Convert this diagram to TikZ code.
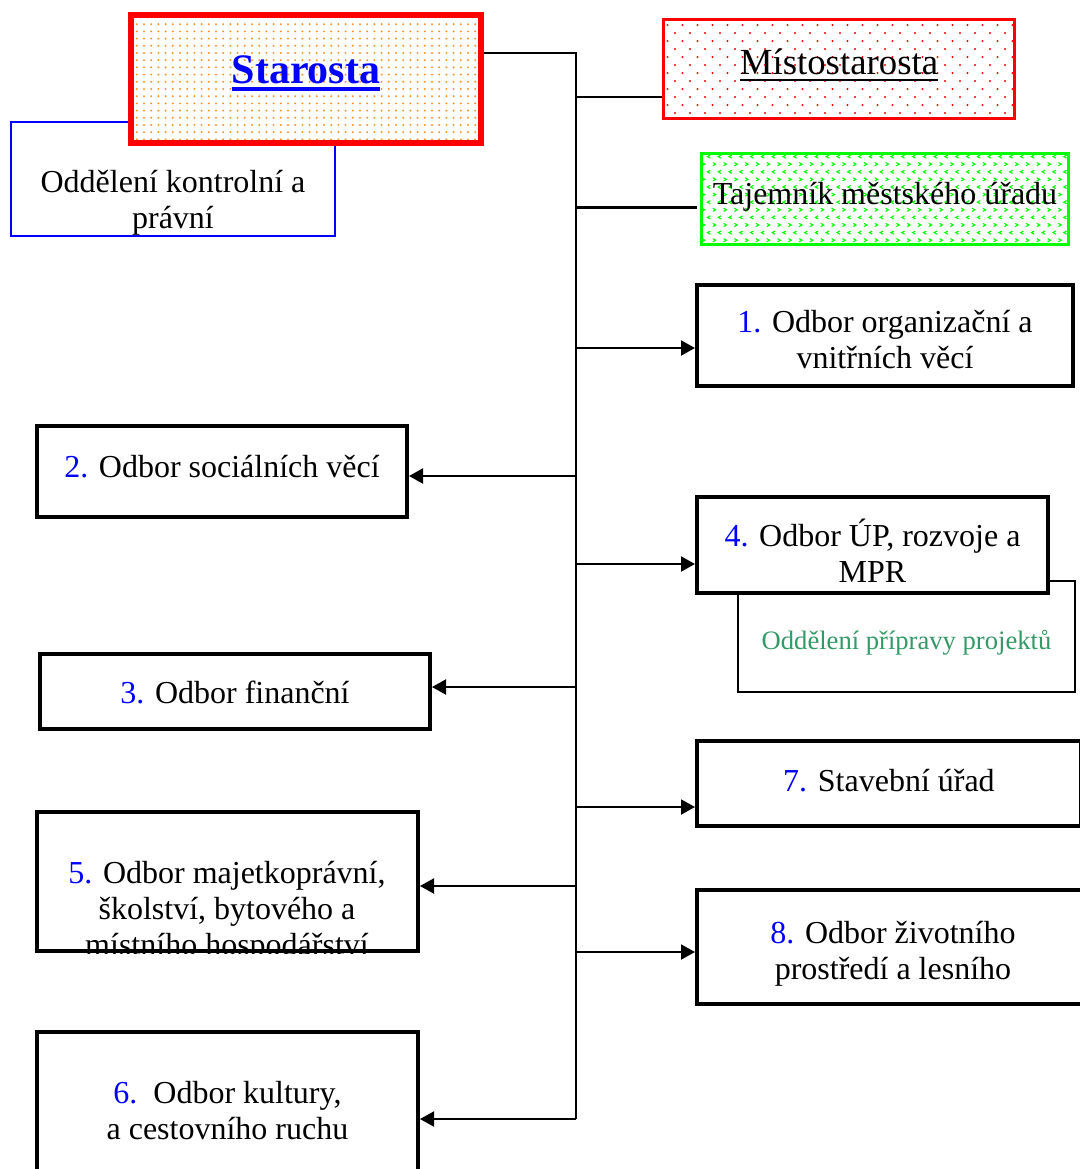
\documentclass[tikz,border=0pt]{standalone}
\usepackage{fontspec}
\setmainfont{Liberation Serif}
\usetikzlibrary{arrows.meta,patterns,patterns.meta}
\definecolor{projekt}{RGB}{51,153,102}
\tikzdeclarepattern{name=hustetecky,type=uncolored,
  bounding box={(-.6pt,-.6pt) and (.6pt,.6pt)},tile size={(3.6pt,3.6pt)},
  code={\fill (0pt,0pt) circle (.55pt);}}
\tikzdeclarepattern{name=ridketecky,type=uncolored,
  bounding box={(-.6pt,-.6pt) and (4.4pt,4.6pt)},tile size={(7.5pt,8pt)},
  code={\fill (0pt,0pt) circle (.55pt); \fill (3.75pt,4pt) circle (.55pt);}}
\tikzdeclarepattern{name=klikatice,type=uncolored,
  bounding box={(-.5pt,-.5pt) and (5pt,5.8pt)},tile size={(5.4pt,7.6pt)},
  code={\draw[line width=.55pt] (0pt,1.6pt) -- (1.4pt,.8pt) -- (0pt,0pt);
        \draw[line width=.55pt] (4.1pt,5.4pt) -- (2.7pt,4.6pt) -- (4.1pt,3.8pt);}}
\tikzstyle{every node}=[font=\fontsize{16}{18}\selectfont]
\tikzstyle{odbor}=[draw=black,line width=2pt,fill=white,inner sep=0pt]
\tikzstyle{oddeleni}=[draw=black,line width=1pt,fill=white,inner sep=0pt]
\tikzstyle{vedeni}=[line width=1.5pt,inner sep=0pt,align=center,preaction={fill=white}]
\tikzstyle{popis}=[align=center,inner sep=0pt]
\tikzstyle{spoj}=[line width=1pt]
\tikzstyle{sipka}=[line width=1pt,-{Triangle[length=7pt,width=7.5pt]}]
\newcommand{\cislo}[1]{\textcolor{blue}{#1}}
\newlength{\podtrhsirka}
% #1 hloubka pod uckou, #2 tloustka, #3 text
\newcommand{\podtrh}[3]{\settowidth{\podtrhsirka}{#3}\rlap{\rule[-#1]{\podtrhsirka}{#2}}#3}

\begin{document}
\begin{tikzpicture}[x=0.5pt,y=-0.5pt]
\useasboundingbox (0,0) rectangle (1080,1169);

% vedeni uradu
\node[draw=blue,line width=1pt,minimum width=162pt,minimum height=57pt] (kontrola) at (173,179) {};
\node[popis] (kontrolatext) at (173,203) {Oddělení kontrolní a\\právní};
\node[vedeni,draw=red,line width=3pt,pattern=hustetecky,pattern color=orange!85,
  minimum width=175pt,minimum height=64pt] (starosta) at (306,79) {};
\node[anchor=base,text=blue,font=\fontsize{21}{24}\selectfont\bfseries] (starostatext) at (306,83)
  {\podtrh{4pt}{2pt}{Starosta}};
\node[vedeni,draw=red,pattern=ridketecky,pattern color=red,
  minimum width=175.5pt,minimum height=49.5pt] (misto) at (839,69) {};
\node[anchor=base,font=\fontsize{18.4}{20}\selectfont] (mistotext) at (839,74)
  {\podtrh{3.5pt}{1pt}{Místostarosta}};
\node[vedeni,draw=green,pattern=klikatice,pattern color=green,
  minimum width=183.5pt,minimum height=45.5pt] (tajemnik) at (885,199) {};
\node[popis] (tajemniktext) at (885,197) {Tajemník městského úřadu};

% odbory vpravo
\node[odbor,minimum width=188pt,minimum height=50.5pt] (odbor1) at (885,335.5) {};
\node[popis] (odbor1text) at (885,339.5) {\cislo{1.} Odbor organizační a\\vnitřních věcí};
\node[oddeleni,minimum width=168.5pt,minimum height=55.5pt] (projekty) at (906.5,636) {};
\node[popis,text=projekt,font=\fontsize{13.3}{16}\selectfont] (projektytext) at (906.5,643)
  {Oddělení přípravy projektů};
\node[odbor,minimum width=175.5pt,minimum height=48pt] (odbor4) at (872.5,545) {};
\node[popis] (odbor4text) at (872.5,551) {\cislo{4.} Odbor ÚP, rozvoje a\\MPR};
\node[odbor,minimum width=192pt,minimum height=42.5pt] (odbor7) at (889,783) {};
\node[popis] (odbor7text) at (889,781) {\cislo{7.} Stavební úřad};
\node[odbor,minimum width=196pt,minimum height=57pt] (odbor8) at (893,947) {};
\node[popis] (odbor8text) at (893,954) {\cislo{8.} Odbor životního\\prostředí a lesního};

% odbory vlevo
\node[odbor,minimum width=185pt,minimum height=45.5pt] (odbor2) at (222,471) {};
\node[popis] (odbor2text) at (222,467) {\cislo{2.} Odbor sociálních věcí};
\node[odbor,minimum width=195pt,minimum height=37.5pt] (odbor3) at (235,691.5) {};
\node[popis] (odbor3text) at (235,692) {\cislo{3.} Odbor finanční};
\node[odbor,minimum width=190.5pt,minimum height=69.5pt] (odbor5) at (227.5,881.5) {};
\begin{scope}
  \clip (odbor5.north west) rectangle (odbor5.south east);
  \node[popis] (odbor5text) at (227,912)
    {\cislo{5.} Odbor majetkoprávní,\\školství, bytového a\\místního hospodářství};
\end{scope}
\node[odbor,minimum width=190.5pt,minimum height=74pt] (odbor6) at (227.5,1106) {};
\node[popis] (odbor6text) at (227.5,1111) {\cislo{6.}\ \ Odbor kultury,\\a cestovního ruchu};

% spojnice
\coordinate (kmen) at (576,53);
\coordinate (pata) at (576,1119);
\coordinate (k1) at (576,97);
\coordinate (k2) at (576,207);
\coordinate (k3) at (576,348);
\coordinate (k4) at (576,476);
\coordinate (k5) at (576,564);
\coordinate (k6) at (576,687);
\coordinate (k7) at (576,807);
\coordinate (k8) at (576,886);
\coordinate (k9) at (576,952);
\draw[spoj] (kmen -| starosta.east) -- (kmen) -- (pata);
\draw[spoj] (k1) -- (k1 -| misto.west);
\draw[line width=1.5pt,shorten >=1.5pt] (k2) -- (k2 -| tajemnik.west);
\draw[sipka] (k3) -- (k3 -| odbor1.west);
\draw[sipka] (k4) -- (k4 -| odbor2.east);
\draw[sipka] (k5) -- (k5 -| odbor4.west);
\draw[sipka] (k6) -- (k6 -| odbor3.east);
\draw[sipka] (k7) -- (k7 -| odbor7.west);
\draw[sipka] (k8) -- (k8 -| odbor5.east);
\draw[sipka] (k9) -- (k9 -| odbor8.west);
\draw[sipka] (pata) -- (pata -| odbor6.east);
\end{tikzpicture}
\end{document}
